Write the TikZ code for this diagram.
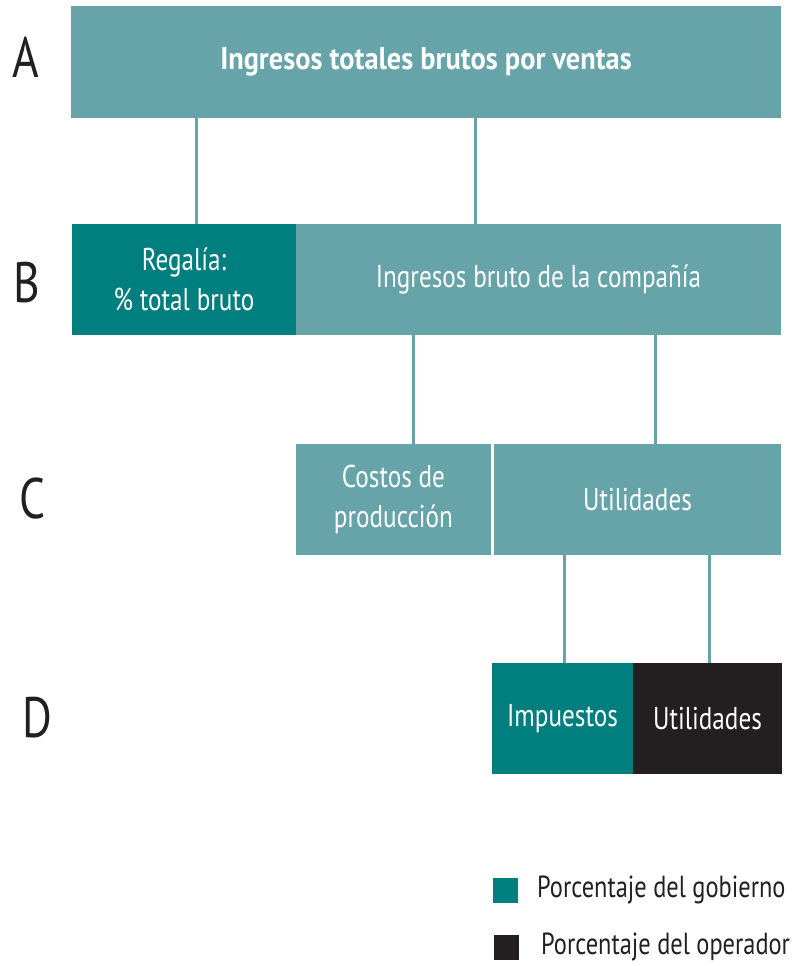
\documentclass[tikz,border=0pt]{standalone}
\usepackage{fontspec}
\setmainfont{PT Sans}[FakeStretch=0.80]
\newfontfamily\titlefont{PT Sans}[FakeStretch=0.90]
\definecolor{lteal}{HTML}{66A4AA}
\definecolor{dteal}{HTML}{007F7E}
\definecolor{dblack}{HTML}{231F20}
\begin{document}
\begin{tikzpicture}[x=1pt,y=-1pt,
  box/.style={rectangle,inner sep=0pt,text=white,font=\fontsize{31.5}{40}\selectfont,align=center},
  conn/.style={draw=lteal,line width=3pt},
  rowlab/.style={font=\fontsize{57}{60}\selectfont,text=dblack,inner sep=0pt},
  legtxt/.style={font=\fontsize{30.5}{34}\selectfont,text=dblack,anchor=west,inner sep=0pt},
  legbox/.style={rectangle,inner sep=0pt,minimum width=25pt,minimum height=25pt}]
\useasboundingbox (0,0) rectangle (794,966);
% boxes
\node[box,fill=lteal,minimum width=710pt,minimum height=112pt,font=\titlefont\fontsize{31.5}{40}\selectfont\bfseries] (A) at (426,62) {Ingresos totales brutos por ventas};
\node[box,fill=dteal,minimum width=224pt,minimum height=111pt] (reg) at (184,279.5) {Regalía:\\\% total bruto};
\node[box,fill=lteal,minimum width=485pt,minimum height=111pt] (ingB) at (538.5,279.5) {Ingresos bruto de la compañía};
\node[box,fill=lteal,minimum width=195pt,minimum height=111pt] (cost) at (393.5,499.5) {Costos de\\producción};
\node[box,fill=lteal,minimum width=287pt,minimum height=111pt] (utilC) at (637.5,499.5) {Utilidades};
\node[box,fill=dteal,minimum width=141pt,minimum height=111pt] (imp) at (562.5,718.5) {Impuestos};
\node[box,fill=dblack,minimum width=149pt,minimum height=111pt] (utilD) at (707.5,718.5) {Utilidades};
% connector x positions
\coordinate (x1) at (196,0);
\coordinate (x2) at (475,0);
\coordinate (x3) at (413,0);
\coordinate (x4) at (655,0);
\coordinate (x5) at (564,0);
\coordinate (x6) at (709,0);
\draw[conn] (A.south -| x1) -- (reg.north -| x1);
\draw[conn] (A.south -| x2) -- (ingB.north -| x2);
\draw[conn] (ingB.south -| x3) -- (cost.north -| x3);
\draw[conn] (ingB.south -| x4) -- (utilC.north -| x4);
\draw[conn] (utilC.south -| x5) -- (imp.north -| x5);
\draw[conn] (utilC.south -| x6) -- (utilD.north -| x6);
% row labels
\node[rowlab] (lA) at (26,57) {A};
\node[rowlab] (lB) at (27,283) {B};
\node[rowlab] (lC) at (33,499) {C};
\node[rowlab] (lD) at (37,718) {D};
% legend
\node[legbox,fill=dteal] (lg1) at (505.5,890.5) {};
\node[legbox,fill=dblack] (lg2) at (506,947.5) {};
\node[legtxt] (lt1) at (537,890) {Porcentaje del gobierno};
\node[legtxt] (lt2) at (541,947) {Porcentaje del operador};
\end{tikzpicture}
\end{document}
